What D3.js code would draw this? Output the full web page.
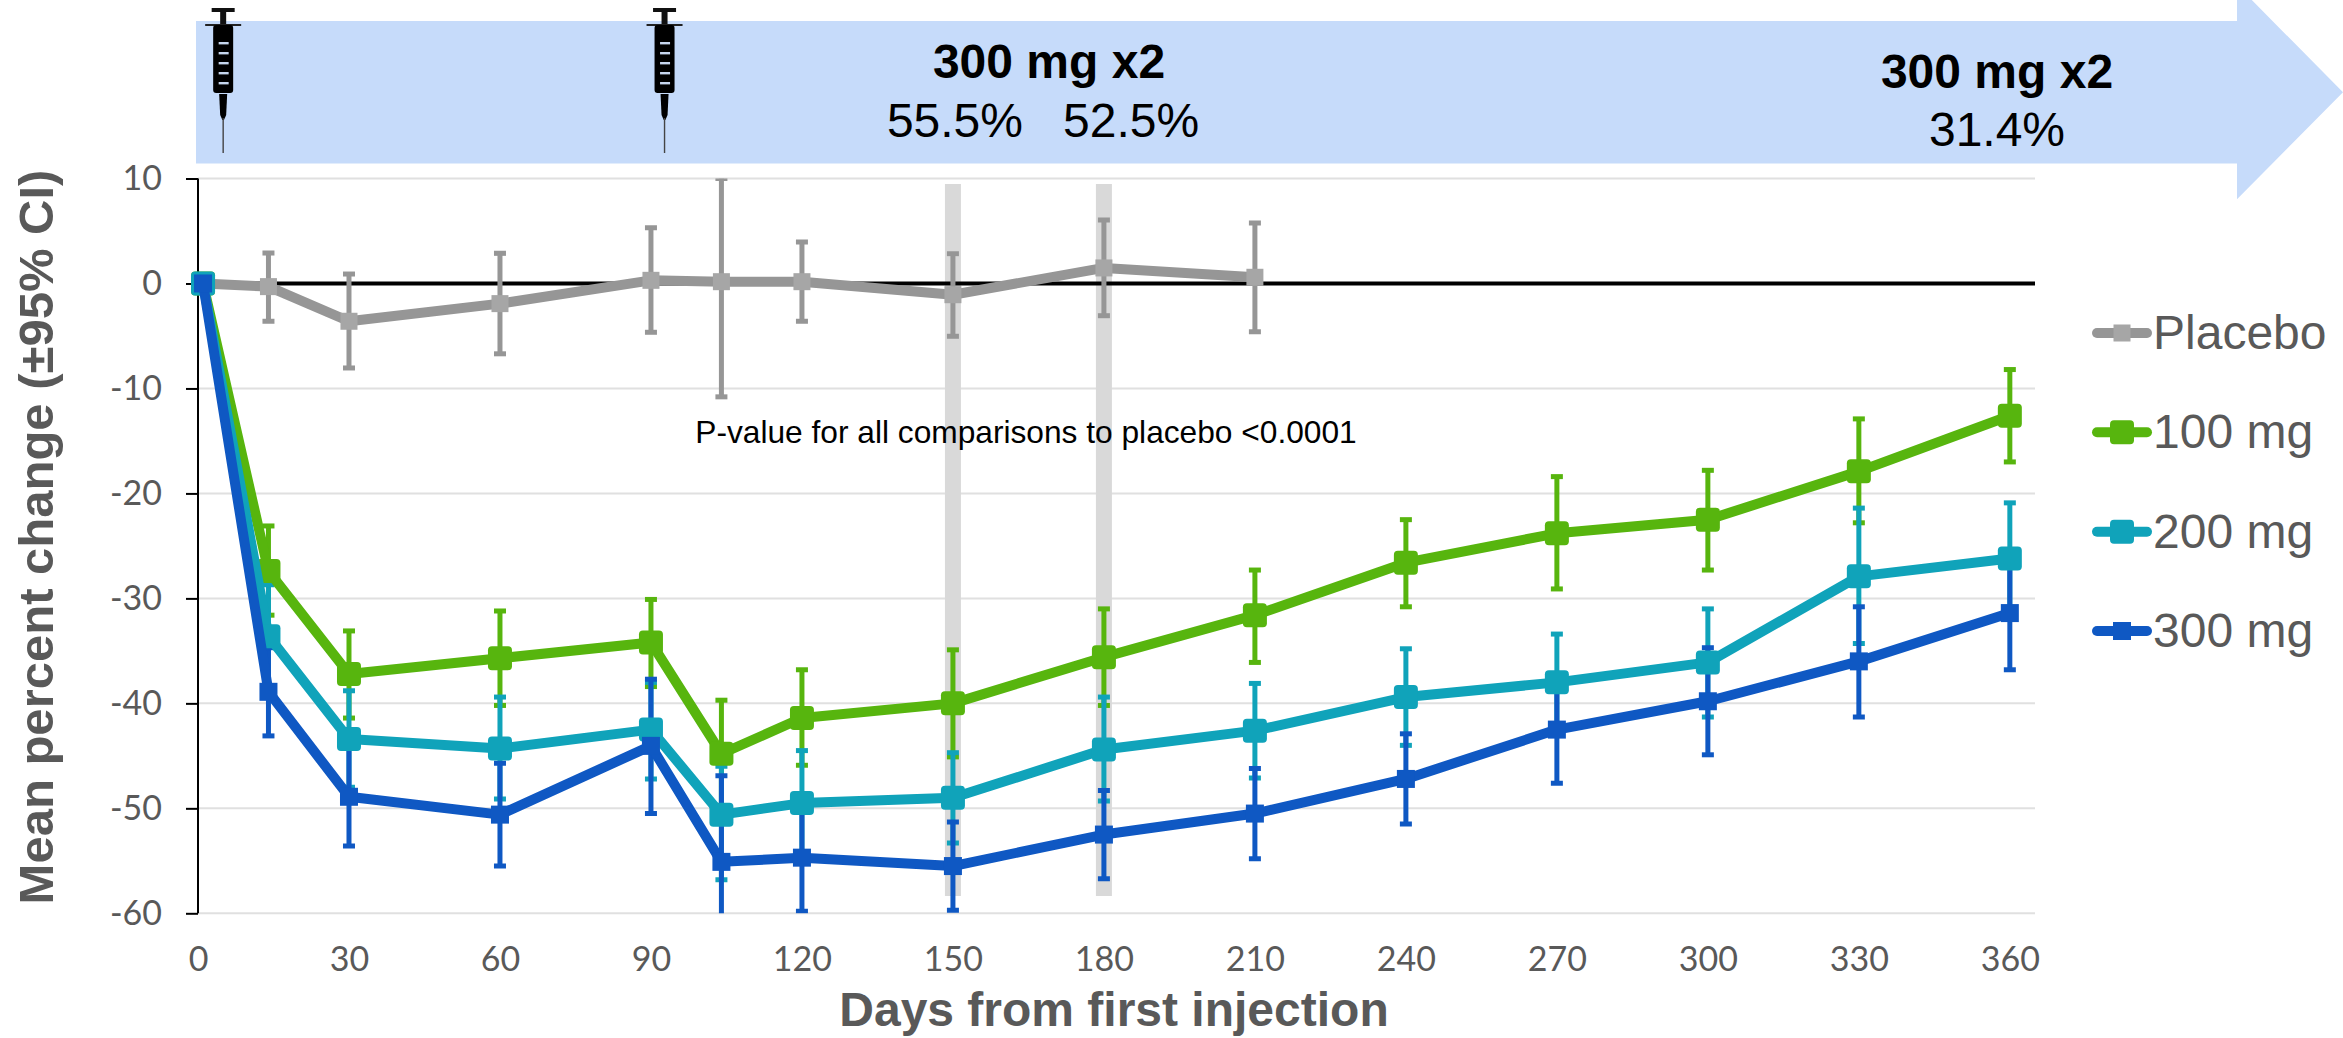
<!DOCTYPE html>
<html><head><meta charset="utf-8">
<script src="https://cdn.jsdelivr.net/npm/d3@7/dist/d3.min.js"></script>
<style>html,body{margin:0;padding:0;background:#fff}svg{display:block}</style>
</head><body><svg id="c" width="2343" height="1038"></svg>
<script>
const days=[1,14,30,60,90,104,120,150,180,210,240,270,300,330,360];
const yTicks=[10,0,-10,-20,-30,-40,-50,-60];
const xTicks=[0,30,60,90,120,150,180,210,240,270,300,330,360];
const placeboVals=[0,-0.3,-3.6,-1.92,0.3,0.17,0.17,-1.07,1.48,0.59];
const placeboUp=[null,2.9,0.9,2.87,5.3,10,3.95,2.84,6.05,5.76];
const placeboLo=[null,-3.6,-8.05,-6.7,-4.65,-10.8,-3.6,-5.03,-3.07,-4.6];
const mg100Vals=[0,-27.4,-37.2,-35.7,-34.2,-44.8,-41.4,-40,-35.6,-31.6,-26.6,-23.8,-22.5,-17.9,-12.6];
const mg100Up=[null,-23.1,-33.1,-31.2,-30.1,-39.7,-36.8,-34.9,-31,-27.3,-22.5,-18.4,-17.8,-12.9,-8.2];
const mg100Lo=[null,-31.6,-41.4,-40.2,-38.4,-50,-45.9,-45.1,-40.2,-36.1,-30.8,-29.1,-27.3,-22.8,-17];
const mg200Vals=[0,-33.6,-43.4,-44.3,-42.5,-50.6,-49.5,-49,-44.4,-42.6,-39.4,-38,-36.1,-27.9,-26.2];
const mg200Up=[null,-28.7,-38.8,-39.4,-38,-46,-44.5,-44.7,-39.4,-38.1,-34.8,-33.4,-31,-21.4,-20.9];
const mg200Lo=[null,-38.3,-48,-49.1,-47.2,-56.8,-54.5,-53.3,-49.3,-47.1,-44,-42.7,-41.3,-34.3,-31.5];
const mg300Vals=[0,-38.9,-48.9,-50.6,-44.05,-55.1,-54.7,-55.5,-52.5,-50.5,-47.2,-42.5,-39.8,-36,-31.4];
const mg300Up=[null,-34.7,-44.2,-45.7,-37.7,-46.9,-50,-51.3,-48.3,-46.2,-42.9,-37.6,-34.7,-30.8,-26];
const mg300Lo=[null,-43.1,-53.6,-55.5,-50.5,-61,-59.8,-59.7,-56.7,-54.8,-51.5,-47.6,-44.9,-41.3,-36.8];
const seriesNames=["Placebo","100 mg","200 mg","300 mg"];
const seriesVals=[placeboVals,mg100Vals,mg200Vals,mg300Vals];
const seriesUp=[placeboUp,mg100Up,mg200Up,mg300Up];
const seriesLo=[placeboLo,mg100Lo,mg200Lo,mg300Lo];
const lineColors=["#969696","#57b50e","#10a3ba","#0f58c3"];
const markColors=["#a6a6a6","#57b50e","#10a3ba","#0f58c3"];
const markSizes=[17,24,24,18];
const markRadii=[0,4,4,0];
const highlightDays=[150,180];
const injectionDays=[5,92.7];
const SANS='"Liberation Sans",Arial,sans-serif';
const GREY='#595959';

const svg=d3.select('#c');
const x=d3.scaleLinear().domain([0,365]).range([198,2035]);
const y=d3.scaleLinear().domain([10,-60]).range([178.5,913.3]);

svg.append('defs').append('clipPath').attr('id','plot').append('rect')
  .attr('x',150).attr('y',y(10)).attr('width',2000).attr('height',y(-60)-y(10));

// arrow banner
svg.append('path').attr('fill','#c6dbfa')
  .attr('d',d3.line()([[196,21],[2237,21],[2237,-15],[2343,92.3],[2237,199.3],[2237,163.6],[196,163.6]])+'Z');

// syringes
const syr=svg.append('g').selectAll('g').data(injectionDays).join('g')
  .attr('transform',d=>`translate(${x(d)},0)`);
syr.append('rect').attr('x',-11.5).attr('y',8).attr('width',23).attr('height',4).attr('fill','#111');
syr.append('rect').attr('x',-3).attr('y',12).attr('width',6).attr('height',13).attr('fill','#111');
syr.append('rect').attr('x',-18).attr('y',24).attr('width',36).attr('height',2).attr('fill','#222');
syr.append('rect').attr('x',-10).attr('y',25).attr('width',20).attr('height',68).attr('rx',3).attr('fill','#000');
syr.selectAll('.st').data([43,53,63,73,83]).join('rect').attr('class','st')
  .attr('x',-4.5).attr('y',d=>d-1).attr('width',10).attr('height',2.4).attr('fill','#c6d6ee');
syr.append('path').attr('d','M-4 94H4L3 115L0.8 120H-0.8L-3 115Z').attr('fill','#000');
syr.append('rect').attr('x',-0.7).attr('y',118).attr('width',1.4).attr('height',35).attr('fill','#444');

// banner text
const t=svg.append('g').attr('font-family',SANS).attr('fill','#000').attr('text-anchor','middle').attr('font-size',48);
t.append('text').attr('x',1049).attr('y',78).attr('font-weight',700).text('300 mg x2');
t.append('text').attr('x',1043).attr('y',137).style('white-space','pre').text('55.5%   52.5%');
t.append('text').attr('x',1997).attr('y',88).attr('font-weight',700).text('300 mg x2');
t.append('text').attr('x',1997).attr('y',146).text('31.4%');

// grid
svg.append('g').selectAll('line').data(yTicks.filter(d=>d!==0)).join('line')
  .attr('x1',x(0)).attr('x2',x(365)).attr('y1',d=>y(d)).attr('y2',d=>y(d))
  .attr('stroke','#e0e0e0').attr('stroke-width',2);

// highlight bands
svg.append('g').selectAll('rect').data(highlightDays).join('rect')
  .attr('x',d=>x(d)-8).attr('width',16).attr('y',184).attr('height',712).attr('fill','#d9d9d9');

// axes
const yAxis=svg.append('g').attr('transform',`translate(${x(0)},0)`)
  .call(d3.axisLeft(y).tickValues(yTicks).tickFormat(d=>String(d)).tickSize(12).tickSizeOuter(0).tickPadding(24));
yAxis.select('.domain').attr('stroke','#000').attr('stroke-width',2).attr('d',`M0,${y(10)}V${y(-60)}`);
yAxis.selectAll('.tick line').attr('stroke','#000').attr('stroke-width',2);
yAxis.selectAll('text').attr('font-family','Lato').attr('font-size',34).attr('fill',GREY);
const xAxis=svg.append('g').attr('transform',`translate(0,${y(-60)})`)
  .call(d3.axisBottom(x).tickValues(xTicks).tickSize(0).tickPadding(34));
xAxis.select('.domain').remove();
xAxis.selectAll('text').attr('font-family','Lato').attr('font-size',34).attr('fill',GREY);

// zero line
svg.append('line').attr('x1',x(0)).attr('x2',x(365)).attr('y1',y(0)).attr('y2',y(0)).attr('stroke','#000').attr('stroke-width',4);

// note
svg.append('text').attr('x',1026).attr('y',443).attr('text-anchor','middle').attr('font-family',SANS).attr('font-size',31.7).attr('fill','#000')
  .text('P-value for all comparisons to placebo <0.0001');

const plot=svg.append('g').attr('clip-path','url(#plot)');
// error bars, all below the lines
seriesVals.forEach((vals,s)=>{
  const rows=vals.map((v,i)=>({d:days[i],up:seriesUp[s][i],lo:seriesLo[s][i]})).filter(r=>r.up!==null);
  const g=plot.append('g').attr('stroke',lineColors[s]);
  g.selectAll('.bar').data(rows).join('line').attr('class','bar')
    .attr('x1',r=>x(r.d)).attr('x2',r=>x(r.d)).attr('y1',r=>y(r.up)).attr('y2',r=>y(r.lo)).attr('stroke-width',5);
  ['up','lo'].forEach(k=>{
    g.selectAll('.cap'+k).data(rows).join('line').attr('class','cap'+k)
      .attr('x1',r=>x(r.d)-6).attr('x2',r=>x(r.d)+6).attr('y1',r=>y(r[k])).attr('y2',r=>y(r[k])).attr('stroke-width',5);
  });
});
// lines and markers
const lineGen=d3.line().x(r=>x(r.d)).y(r=>y(r.v));
seriesVals.forEach((vals,s)=>{
  const rows=vals.map((v,i)=>({d:days[i],v}));
  const g=plot.append('g');
  g.append('path').datum(rows).attr('d',lineGen).attr('fill','none').attr('stroke',lineColors[s]).attr('stroke-width',10).attr('stroke-linejoin','round');
  g.selectAll('rect').data(rows).join('rect')
    .attr('x',r=>x(r.d)-markSizes[s]/2).attr('y',r=>y(r.v)-markSizes[s]/2)
    .attr('width',markSizes[s]).attr('height',markSizes[s]).attr('rx',markRadii[s]).attr('fill',markColors[s]);
});

// axis titles
svg.append('text').attr('x',1114).attr('y',1026).attr('text-anchor','middle').attr('font-family',SANS).attr('font-weight',700).attr('font-size',48).attr('fill',GREY)
  .text('Days from first injection');
svg.append('text').attr('transform','translate(53,537) rotate(-90)').attr('text-anchor','middle').attr('font-family',SANS).attr('font-weight',700).attr('font-size',49).attr('fill',GREY)
  .text('Mean percent change (±95% CI)');

// legend
const legY=d3.scalePoint().domain(seriesNames).range([333,631]);
const leg=svg.append('g').selectAll('g').data(seriesNames).join('g').attr('transform',d=>`translate(0,${legY(d)})`);
leg.append('line').attr('x1',2097).attr('x2',2147).attr('stroke',(d,i)=>lineColors[i]).attr('stroke-width',10).attr('stroke-linecap','round');
leg.append('rect').attr('x',(d,i)=>2122-markSizes[i]/2).attr('y',(d,i)=>-markSizes[i]/2).attr('width',(d,i)=>markSizes[i]).attr('height',(d,i)=>markSizes[i]).attr('rx',(d,i)=>markRadii[i]).attr('fill',(d,i)=>markColors[i]);
leg.append('text').attr('x',2153).attr('y',16).attr('font-family',SANS).attr('font-size',48).attr('fill',GREY).text(d=>d);
</script></body></html>
